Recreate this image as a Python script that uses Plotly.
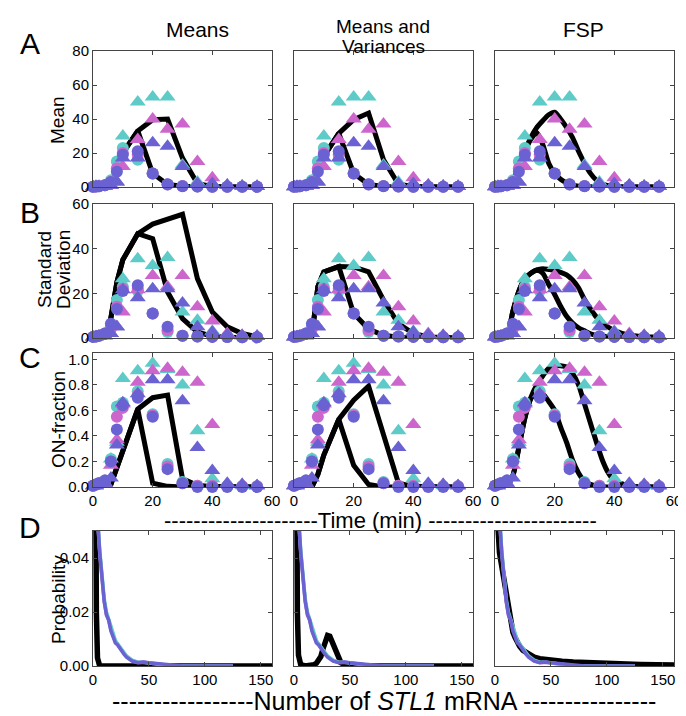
import plotly.graph_objects as go
from plotly.subplots import make_subplots

TEAL = "#5ECBC8"
MAGENTA = "#CC66CC"
BLUE = "#6A62D2"
AXCOL = "#444444"
FONT = "Liberation Sans, Arial, Helvetica, sans-serif"
OFF = 8  # the page body has an 8px margin, so place everything 8px up/left
W, H = 686 - OFF, 716 - OFF

# measurement times (min)
t_data = [0, 1, 2, 4, 6, 8, 10, 15, 20, 25, 30, 35, 40, 45, 50, 55]
# fine grid for the FSP model curves
t_fine = [0, 2, 4, 6, 8, 10, 12, 14, 16, 18, 20, 22, 24, 26, 28, 30, 32, 34, 36, 38, 40, 45, 50, 55]

# --- data: circles = 0.2M, triangles = 0.4M; teal / magenta / blue = replicates
circ_teal_mean = [0.2, 0.3, 0.5, 1, 4, 15, 23, 16, 8, 1.5, 0.6, 0.3, 0.2, 0.2, 0.1, 0.1]
circ_mag_mean = [0.2, 0.3, 0.5, 1, 3, 11, 20, 19, 8, 1.5, 0.6, 0.3, 0.2, 0.2, 0.1, 0.1]
circ_blue_mean = [0.2, 0.3, 0.5, 1, 3, 9, 19, 21, 8, 1.6, 0.5, 0.3, 0.2, 0.2, 0.1, 0.1]
tri_teal_mean = [0.2, 0.3, 0.3, 0.5, 1, 3, 30, 50, 53, 53, 13, 3, 2, 1, 0.6, 0.4]
tri_mag_mean = [0.2, 0.3, 0.3, 0.5, 1, 3, 12, 28, 40, 34, 37, 15, 5.5, 1.2, 0.6, 0.4]
tri_blue_mean = [0.2, 0.3, 0.3, 0.5, 1, 3, 17, 17, 26, 24, 12, 2, 2, 1, 0.5, 0.3]

circ_teal_std = [0.5, 0.7, 1, 2, 5, 17, 23, 21, 11, 2.7, 1, 0.7, 0.5, 0.4, 0.3, 0.3]
circ_mag_std = [0.5, 0.7, 1, 2, 4, 14, 22, 22, 11, 3.5, 1, 0.7, 0.5, 0.4, 0.3, 0.3]
circ_blue_std = [0.5, 0.7, 1, 2, 6.4, 13, 21, 23.6, 11, 5, 1, 0.7, 0.5, 0.4, 0.3, 0.3]
tri_teal_std = [0.5, 0.6, 0.8, 1, 2, 5, 26.5, 35.5, 32.5, 36, 11.6, 8, 3, 1.5, 1, 0.8]
tri_mag_std = [0.5, 0.6, 0.8, 1, 2, 5, 11.6, 21.6, 28, 23, 28, 14, 7.6, 2, 1.2, 0.8]
tri_blue_std = [0.5, 0.6, 0.8, 1, 2, 5, 21.6, 18, 22, 22, 15.7, 5, 2.7, 1.5, 1, 0.8]

circ_teal_on = [0.01, 0.02, 0.03, 0.05, 0.22, 0.63, 0.66, 0.75, 0.57, 0.18, 0.04, 0.01, 0.01, 0.005, 0.005, 0.005]
circ_mag_on = [0.01, 0.02, 0.03, 0.05, 0.2, 0.55, 0.62, 0.72, 0.56, 0.16, 0.03, 0.01, 0.01, 0.005, 0.005, 0.005]
circ_blue_on = [0.01, 0.02, 0.03, 0.05, 0.2, 0.45, 0.64, 0.70, 0.55, 0.14, 0.03, 0.0, 0.0, 0.0, 0.0, 0.0]
tri_teal_on = [0.01, 0.01, 0.02, 0.03, 0.22, 0.35, 0.85, 0.91, 0.97, 0.92, 0.80, 0.44, 0.065, 0.02, 0.01, 0.01]
tri_mag_on = [0.01, 0.01, 0.02, 0.03, 0.17, 0.37, 0.65, 0.82, 0.91, 0.93, 0.90, 0.82, 0.49, 0.02, 0.02, 0.01]
tri_blue_on = [0.01, 0.01, 0.02, 0.03, 0.07, 0.33, 0.66, 0.73, 0.84, 0.84, 0.675, 0.31, 0.13, 0.03, 0.02, 0.01]

# --- model fits, "Means" column (on t_data)
m1_mean_c1 = [0, 0, 0, 0, 1, 11, 20, 33, 8, 1.5, 0.4, 0.1, 0, 0, 0, 0]
m2_mean_c1 = [0, 0, 0, 0, 1, 11, 20, 33, 39.6, 40, 17, 2, 0.3, 0, 0, 0]
m1_std_c1 = [0, 0, 0, 0.5, 9, 25, 35, 46.7, 44.5, 20.6, 8.7, 2.7, 0.7, 0.2, 0.1, 0]
m2_std_c1 = [0, 0, 0, 0.5, 9, 25, 35, 46.7, 51, 53.5, 55.4, 26.6, 11.6, 5, 2, 0.5]
m1_on_c1 = [0, 0, 0, 0, 0.02, 0.15, 0.3, 0.61, 0.03, 0.005, 0, 0, 0, 0, 0, 0]
m2_on_c1 = [0, 0, 0, 0, 0.02, 0.15, 0.3, 0.61, 0.70, 0.72, 0.065, 0.013, 0.003, 0, 0, 0]

# --- model fits, "Means and Variances" column (on t_data)
m1_mean_c2 = [0, 0, 0, 0, 0.5, 8, 18, 31.5, 8, 1.5, 0.3, 0.1, 0, 0, 0, 0]
m2_mean_c2 = [0, 0, 0, 0, 0.5, 8, 18, 31.5, 39.6, 43.5, 16, 1.6, 0.3, 0, 0, 0]
m1_std_c2 = [0, 0, 0, 0.3, 1, 23, 29.6, 32, 11, 4, 1.2, 0.3, 0, 0, 0, 0]
m2_std_c2 = [0, 0, 0, 0.3, 1, 23, 29.6, 32, 31.8, 29.6, 17, 6.4, 2, 0.5, 0.2, 0]
m1_on_c2 = [0, 0, 0, 0, 0, 0.1, 0.25, 0.53, 0.17, 0.02, 0, 0, 0, 0, 0, 0]
m2_on_c2 = [0, 0, 0, 0, 0, 0.1, 0.25, 0.53, 0.68, 0.79, 0.40, 0.03, 0.005, 0, 0, 0]

# --- model fits, "FSP" column (on t_fine)
m1_mean_c3 = [0, 0, 0.3, 3.5, 12, 21, 28, 32, 25, 14, 8, 4.5, 2.4, 1.2, 0.5, 0.2, 0.1, 0.1, 0, 0, 0, 0, 0, 0]
m2_mean_c3 = [0, 0, 0.3, 3.5, 12, 21, 29, 35, 39, 42.5, 44, 40, 35, 29, 21, 14, 8, 4, 1.8, 0.8, 0.3, 0, 0, 0]
m1_std_c3 = [0, 0.2, 0.8, 12, 21, 26.5, 29, 30.3, 29, 24, 19.5, 14.2, 9.7, 6.7, 4.6, 3.2, 1.9, 1.2, 0.9, 0.6, 0.5, 0.3, 0.2, 0.1]
m2_std_c3 = [0, 0.2, 0.8, 12, 21, 26.5, 29, 30.5, 31, 30.7, 30.3, 29.4, 28.3, 26, 22.5, 17.2, 13, 9.4, 6.8, 4.8, 3.3, 1.2, 0.6, 0.4]
m1_on_c3 = [0, 0, 0.01, 0.09, 0.31, 0.54, 0.69, 0.75, 0.73, 0.67, 0.60, 0.47, 0.35, 0.21, 0.11, 0.045, 0.02, 0.008, 0.004, 0, 0, 0, 0, 0]
m2_on_c3 = [0, 0, 0.01, 0.09, 0.31, 0.54, 0.70, 0.80, 0.87, 0.93, 0.95, 0.95, 0.94, 0.89, 0.80, 0.65, 0.50, 0.35, 0.21, 0.11, 0.05, 0.008, 0, 0]

# --- row D: mRNA distributions
n_data = [0, 2, 4, 6, 8, 10, 12, 14, 16, 18, 20, 22, 24, 26, 28, 30, 35, 40, 45, 50, 55, 60, 65, 70, 80, 90, 100, 110, 125]
p_blue = [0.12, 0.08, 0.055, 0.042, 0.032, 0.024, 0.019, 0.017, 0.013, 0.011, 0.0085, 0.0078, 0.0065, 0.0052,
          0.0042, 0.0033, 0.0018, 0.0012, 0.0015, 0.0012, 0.001, 0.0008, 0.0003, 0.0001, 0, 0, 0, 0, 0]
p_teal = [0.12, 0.08, 0.056, 0.043, 0.033, 0.025, 0.020, 0.0175, 0.014, 0.012, 0.0095, 0.0082, 0.007, 0.0058,
          0.0047, 0.0037, 0.0022, 0.0014, 0.0014, 0.0011, 0.0009, 0.0007, 0.0003, 0.0001, 0, 0, 0, 0, 0]
p_mag = [0.12, 0.08, 0.055, 0.042, 0.032, 0.024, 0.019, 0.017, 0.0135, 0.0115, 0.009, 0.008, 0.0068, 0.0055,
         0.0045, 0.0035, 0.002, 0.0013, 0.0014, 0.0011, 0.0009, 0.0007, 0.0003, 0.0001, 0, 0, 0, 0, 0]

n_c1 = [0, 1, 2, 3, 4, 5, 6, 160]
p_c1 = [0.3, 0.15, 0.06, 0.02, 0.003, 0.0005, 0, 0]
n_c2 = [0, 1, 2, 3, 4, 6, 10, 15, 18, 20, 22, 24, 26, 28, 30, 32, 34, 36, 38, 40, 42, 45, 50, 55, 160]
p_c2 = [0.3, 0.15, 0.06, 0.02, 0.004, 0.0005, 0, 0.0001, 0.0005, 0.001, 0.002, 0.0035, 0.0065, 0.0095, 0.0113,
        0.011, 0.009, 0.0065, 0.004, 0.0022, 0.0012, 0.0005, 0.0001, 0, 0]
n_c3 = [0, 2, 4, 6, 8, 10, 12, 14, 16, 18, 20, 22, 25, 30, 35, 40, 50, 60, 70, 90, 110, 130, 160]
p_c3 = [0.07, 0.05, 0.042, 0.037, 0.032, 0.026, 0.021, 0.016, 0.0125, 0.0105, 0.0088, 0.0073, 0.0058, 0.0043,
        0.0033, 0.0027, 0.0021, 0.0018, 0.0015, 0.0011, 0.0008, 0.0006, 0.0004]

# panel edges in page pixels
col_x = [(93, 272), (294, 473), (495, 674)]
row_y = [(51, 187), (204, 338), (353, 487), (531, 666)]


def px_x(px):
    return (px - OFF) / W


def px_y(py):
    return 1 - (py - OFF) / H


fig = make_subplots(rows=4, cols=3)


def add_line(x, y, row, col, width=5, color="black", spline=False):
    fig.add_trace(go.Scatter(x=x, y=y, mode="lines",
                             line=dict(color=color, width=width, shape="spline" if spline else "linear",
                                       smoothing=0.7),
                             showlegend=False, hoverinfo="skip"), row=row, col=col)


def add_markers(y, symbol, color, row, col):
    fig.add_trace(go.Scatter(x=t_data, y=y, mode="markers",
                             marker=dict(symbol=symbol, color=color, size=12 if symbol == "circle" else 14,
                                         line=dict(width=0)),
                             showlegend=False, hoverinfo="skip", cliponaxis=False), row=row, col=col)


models = [
    [(t_data, m1_mean_c1, m2_mean_c1), (t_data, m1_mean_c2, m2_mean_c2), (t_fine, m1_mean_c3, m2_mean_c3)],
    [(t_data, m1_std_c1, m2_std_c1), (t_data, m1_std_c2, m2_std_c2), (t_fine, m1_std_c3, m2_std_c3)],
    [(t_data, m1_on_c1, m2_on_c1), (t_data, m1_on_c2, m2_on_c2), (t_fine, m1_on_c3, m2_on_c3)],
]
markers = [
    (circ_teal_mean, circ_mag_mean, circ_blue_mean, tri_teal_mean, tri_mag_mean, tri_blue_mean),
    (circ_teal_std, circ_mag_std, circ_blue_std, tri_teal_std, tri_mag_std, tri_blue_std),
    (circ_teal_on, circ_mag_on, circ_blue_on, tri_teal_on, tri_mag_on, tri_blue_on),
]

for r in range(3):
    for c in range(3):
        tm, y1, y2 = models[r][c]
        add_line(tm, y1, r + 1, c + 1, spline=(c == 2))
        add_line(tm, y2, r + 1, c + 1, spline=(c == 2))
        ct, cm, cb, tt, tmg, tb = markers[r]
        add_markers(ct, "circle", TEAL, r + 1, c + 1)
        add_markers(tt, "triangle-up", TEAL, r + 1, c + 1)
        add_markers(cm, "circle", MAGENTA, r + 1, c + 1)
        add_markers(tmg, "triangle-up", MAGENTA, r + 1, c + 1)
        add_markers(cb, "circle", BLUE, r + 1, c + 1)
        add_markers(tb, "triangle-up", BLUE, r + 1, c + 1)

black_d = [(n_c1, p_c1), (n_c2, p_c2), (n_c3, p_c3)]
for c in range(3):
    nx, py = black_d[c]
    add_line(nx, py, 4, c + 1, width=5.5)
    add_line(n_data, p_mag, 4, c + 1, width=3.5, color=MAGENTA)
    add_line(n_data, p_teal, 4, c + 1, width=3.5, color=TEAL)
    add_line(n_data, p_blue, 4, c + 1, width=3.5, color=BLUE)

y_specs = [
    dict(range=[0, 80], tickvals=[0, 20, 40, 60, 80]),
    dict(range=[0, 60], tickvals=[0, 20, 40, 60]),
    dict(range=[0, 1.05], tickvals=[0, 0.2, 0.4, 0.6, 0.8, 1.0], tickformat=".1f"),
    dict(range=[0, 0.05], tickvals=[0, 0.02, 0.04], tickformat=".2f"),
]

axis_common = dict(showline=True, linecolor=AXCOL, linewidth=1, mirror="ticks", ticks="inside",
                   ticklen=4, tickcolor=AXCOL, showgrid=False, zeroline=False, automargin=False,
                   tickfont=dict(family=FONT, size=15, color="black"))

layout_axes = {}
for r in range(4):
    for c in range(3):
        k = r * 3 + c + 1
        sx = "" if k == 1 else str(k)
        x0, x1 = col_x[c]
        y0, y1 = row_y[r]
        if r < 3:
            xs = dict(range=[0, 60], tickvals=[0, 20, 40, 60], showticklabels=(r == 2))
        else:
            xs = dict(range=[0, 160], tickvals=[0, 50, 100, 150], showticklabels=True)
        layout_axes["xaxis" + sx] = dict(axis_common, domain=[px_x(x0), px_x(x1)], **xs)
        layout_axes["yaxis" + sx] = dict(axis_common, domain=[px_y(y1), px_y(y0)],
                                         showticklabels=(c == 0), **y_specs[r])
fig.update_layout(**layout_axes)


def ann(px, py, text, size, angle=0, xanchor="center"):
    return dict(x=px_x(px), y=px_y(py), xref="paper", yref="paper", text=text, showarrow=False,
                textangle=angle, font=dict(family=FONT, size=size, color="black"),
                xanchor=xanchor, yanchor="middle")


annotations = [
    ann(197, 30, "Means", 21),
    ann(383, 26, "Means and", 19),
    ann(383, 47, "Variances", 19),
    ann(583, 30, "FSP", 21),
    ann(30, 44, "A", 30), ann(30, 212, "B", 30), ann(30, 357, "C", 30), ann(30, 527, "D", 30),
    ann(58, 120, "Mean", 19, -90),
    ann(44, 270, "Standard", 19, -90),
    ann(63, 270, "Deviation", 19, -90),
    ann(58, 420, "ON-fraction", 19, -90),
    ann(58, 600, "Probability", 19, -90),
    ann(162, 520, "---------------------Time (min) -----------------------", 22, xanchor="left"),
    ann(110, 701, "-----------------Number of <i>STL1</i> mRNA ----------------", 25, xanchor="left"),
]

fig.update_layout(template="none", width=W, height=H, margin=dict(l=0, r=0, t=0, b=0),
                  plot_bgcolor="white", paper_bgcolor="white",
                  annotations=annotations, showlegend=False)

fig.write_html("out.html")
